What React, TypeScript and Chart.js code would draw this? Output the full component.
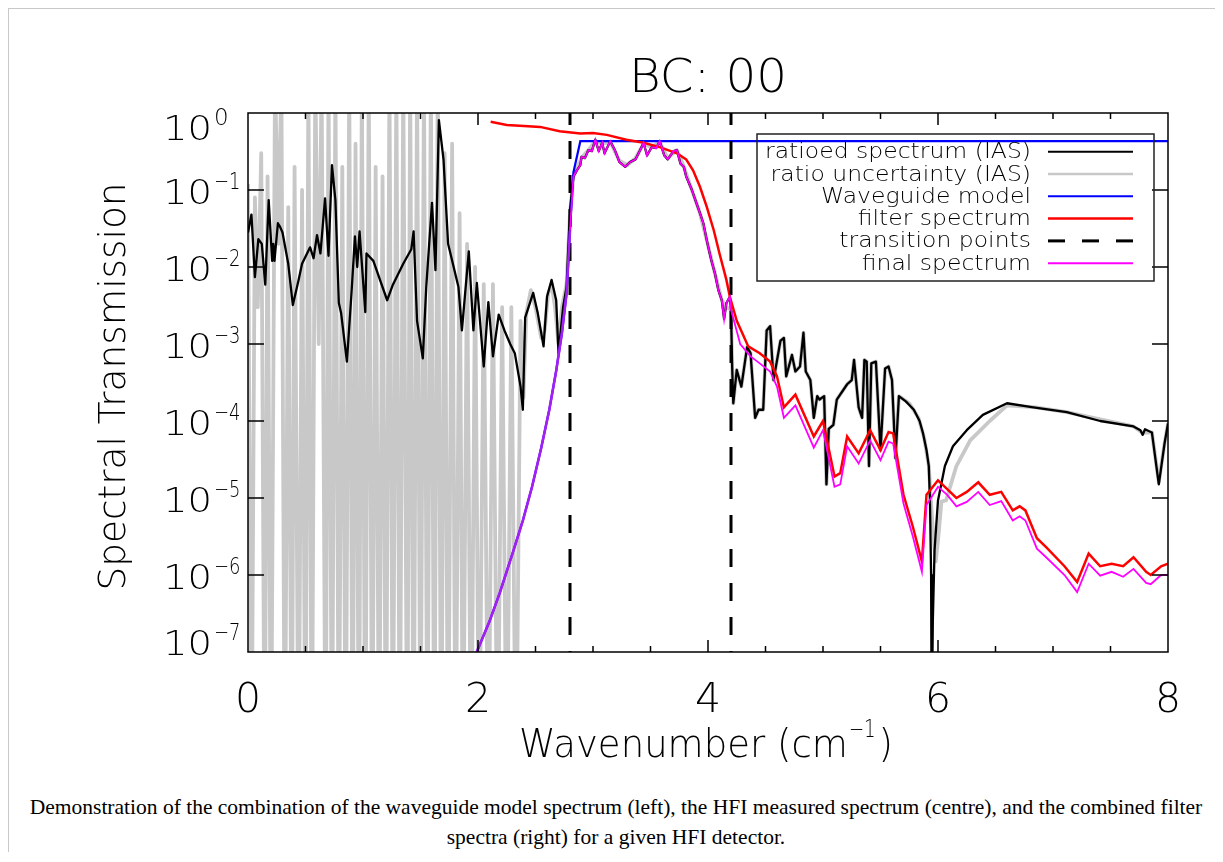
import { useEffect, useRef } from 'react';
import { Chart, registerables } from 'chart.js';

Chart.register(...registerables);

// ---- Spectra (wavenumber in cm^-1, transmission) ----

// ratioed spectrum (IAS)
const ratioWn = [
  0.00, 0.03, 0.06, 0.09, 0.12, 0.15, 0.18, 0.21, 0.22, 0.23, 0.26, 0.28, 0.30, 0.35, 0.39, 0.44, 0.47, 0.54, 0.57, 0.60,
  0.63, 0.67, 0.70, 0.73, 0.76, 0.79, 0.81, 0.86, 0.90, 0.93, 0.95, 0.97, 1.02, 1.03, 1.09, 1.21, 1.26, 1.35, 1.42, 1.44,
  1.47, 1.52, 1.55, 1.60, 1.63, 1.66, 1.70, 1.74, 1.83, 1.86, 1.92, 1.96, 1.99, 2.05, 2.09, 2.13, 2.18, 2.23, 2.28, 2.32,
  2.37, 2.39, 2.41, 2.48, 2.52, 2.57, 2.60, 2.64, 2.68, 2.70, 2.74, 2.77, 2.80, 2.83, 2.86, 2.89, 2.90, 2.93, 2.96, 2.99,
  3.02, 3.05, 3.08, 3.10, 3.15, 3.19, 3.23, 3.28, 3.32, 3.37, 3.41, 3.44, 3.47, 3.51, 3.55, 3.58, 3.62, 3.65, 3.70, 3.73,
  3.76, 3.79, 3.81, 3.86, 3.89, 3.93, 3.96, 3.99, 4.03, 4.06, 4.09, 4.12, 4.14, 4.16, 4.19, 4.20, 4.21, 4.22, 4.25, 4.29,
  4.34, 4.37, 4.41, 4.44, 4.48, 4.51, 4.54, 4.57, 4.63, 4.66, 4.68, 4.73, 4.76, 4.80, 4.83, 4.85, 4.89, 4.92, 4.95, 4.97,
  5.01, 5.03, 5.05, 5.09, 5.12, 5.21, 5.25, 5.27, 5.31, 5.34, 5.36, 5.38, 5.40, 5.42, 5.46, 5.50, 5.54, 5.57, 5.60, 5.63,
  5.66, 5.72, 5.79, 5.84, 5.87, 5.90, 5.92, 5.93, 5.94, 5.945, 5.955, 5.97, 6.00, 6.06, 6.13, 6.25, 6.39, 6.60, 6.83, 7.12,
  7.41, 7.70, 7.76, 7.78, 7.80, 7.86, 7.92, 7.97, 8.00,
];
const ratioVal = [
  2.8e-2, 4.8e-2, 7.4e-3, 2.3e-2, 2.0e-2, 5.9e-3, 7.4e-2, 1.2e-2, 2.0e-2, 1.2e-2, 3.7e-2, 3.3e-2, 2.8e-2, 1.1e-2, 3.2e-3, 6.8e-3, 1.1e-2, 1.8e-2, 1.3e-2, 2.6e-2,
  1.5e-2, 7.8e-2, 1.4e-2, 2.1e-1, 7.4e-2, 3.4e-3, 2.5e-3, 5.9e-4, 4.6e-3, 2.5e-2, 1.0e-2, 2.9e-2, 2.6e-3, 1.5e-2, 1.2e-2, 3.7e-3, 5.9e-3, 1.1e-2, 1.7e-2, 2.9e-2,
  2.0e-3, 6.5e-4, 5.5e-3, 6.8e-2, 9.1e-3, 8.1e-1, 2.5e-1, 2.0e-2, 5.5e-3, 1.5e-3, 1.6e-2, 1.5e-3, 6.2e-3, 5.1e-4, 3.5e-3, 6.9e-4, 2.4e-3, 1.5e-3, 1.0e-3, 7.6e-4,
  2.8e-4, 1.4e-4, 2.2e-3, 4.6e-3, 2.5e-3, 9.3e-4, 4.1e-3, 6.8e-3, 3.7e-3, 7.6e-4, 3.0e-3, 5.5e-3, 5.5e-2, 1.5e-1, 1.8e-1, 2.1e-1, 2.7e-1, 2.6e-1, 3.3e-1, 3.2e-1,
  4.5e-1, 3.2e-1, 4.1e-1, 3.0e-1, 4.3e-1, 3.3e-1, 2.3e-1, 2.0e-1, 2.3e-1, 2.5e-1, 3.3e-1, 4.1e-1, 2.8e-1, 3.6e-1, 3.5e-1, 4.3e-1, 2.8e-1, 2.5e-1, 3.2e-1, 3.3e-1,
  2.2e-1, 2.0e-1, 1.5e-1, 1.0e-1, 7.4e-2, 5.0e-2, 3.7e-2, 2.2e-2, 1.2e-2, 8.3e-3, 5.0e-3, 3.7e-3, 2.1e-3, 3.4e-3, 4.1e-3, 2.8e-3, 5.1e-4, 1.7e-4, 4.6e-4, 2.8e-4,
  9.1e-4, 7.6e-4, 1.1e-4, 1.4e-4, 1.4e-4, 1.5e-3, 1.7e-3, 3.4e-4, 1.1e-3, 1.2e-3, 3.8e-4, 7.2e-4, 4.4e-4, 5.1e-4, 1.4e-3, 4.4e-4, 3.4e-4, 1.1e-4, 2.1e-4, 1.9e-4,
  2.1e-4, 1.5e-5, 7.9e-5, 8.9e-5, 1.9e-4, 3.0e-4, 3.4e-4, 6.2e-4, 1.5e-4, 1.1e-4, 6.2e-4, 5.9e-4, 2.6e-5, 5.6e-4, 5.9e-4, 4.2e-5, 4.8e-4, 5.1e-4, 3.4e-4, 3.3e-5,
  2.1e-4, 1.8e-4, 1.4e-4, 1.0e-4, 6.9e-5, 4.2e-5, 2.6e-5, 9.3e-6, 1.0e-6, 1.0e-8, 2.5e-7, 2.1e-6, 9.3e-6, 2.6e-5, 4.7e-5, 7.6e-5, 1.2e-4, 1.7e-4, 1.5e-4, 1.3e-4,
  1.0e-4, 8.5e-5, 7.6e-5, 6.6e-5, 7.8e-5, 7.1e-5, 1.5e-5, 5.1e-5, 9.3e-5,
];

// ratio uncertainty (IAS)
const sigmaWn = [
  0.000, 0.030, 0.060, 0.085, 0.115, 0.145, 0.170, 0.200, 0.235, 0.265, 0.290, 0.320, 0.350, 0.380, 0.405, 0.440, 0.470, 0.500, 0.525, 0.555,
  0.585, 0.615, 0.640, 0.675, 0.700, 0.730, 0.760, 0.790, 0.820, 0.850, 0.880, 0.910, 0.935, 0.965, 0.990, 1.020, 1.050, 1.080, 1.110, 1.140,
  1.170, 1.200, 1.230, 1.260, 1.290, 1.320, 1.350, 1.385, 1.410, 1.440, 1.470, 1.500, 1.530, 1.560, 1.590, 1.620, 1.650, 1.680, 1.710, 1.740,
  1.775, 1.805, 1.840, 1.870, 1.905, 1.940, 1.975, 2.010, 2.050, 2.090, 2.130, 2.170, 2.210, 2.250, 2.290, 2.330, 2.370, 2.395,
  2.42, 2.46, 2.50, 2.55, 2.58, 2.61, 2.64, 2.67, 2.70, 2.73, 2.77, 2.80, 2.83, 2.90, 2.96, 3.02, 3.08, 3.15, 3.23, 3.30,
  3.37, 3.44, 3.51, 3.58, 3.65, 3.73, 3.79, 3.86, 3.93, 3.99, 4.06, 4.12, 4.16, 4.20,
  4.21, 4.22, 4.25, 4.29, 4.34, 4.37, 4.41, 4.44, 4.48, 4.51, 4.54, 4.57, 4.63, 4.66, 4.68, 4.73, 4.76, 4.80, 4.83, 4.85,
  4.89, 4.92, 4.95, 4.97, 5.01, 5.03, 5.05, 5.09, 5.12, 5.21, 5.25, 5.27, 5.31, 5.34, 5.36, 5.38, 5.40, 5.42, 5.46, 5.50,
  5.54, 5.57, 5.60, 5.63, 5.66, 5.75, 5.83, 5.88, 5.92, 5.95, 5.98, 6.00, 6.03, 6.07, 6.16, 6.28, 6.45, 6.60, 6.85, 7.12,
  7.41, 7.70, 7.78, 7.86, 7.92, 7.97, 8.00,
];
const sigmaVal = [
  1.2e-1, 1e-9, 8e-2, 3e-3, 3e-1, 1e-9, 1.5e-1, 1e-9, 3, 2e-2, 3, 1e-9, 6e-2, 1e-9, 2e-1, 1e-9, 1e-1, 1e-9, 3, 1e-9,
  3, 1e-3, 3, 1e-9, 3, 1e-9, 3, 1e-9, 2e-1, 1e-9, 3, 1e-9, 4e-1, 1e-9, 3, 1e-9, 3, 1e-9, 2e-1, 1e-9,
  1.5e-1, 1e-9, 3, 1e-9, 3, 1e-9, 3, 1e-9, 3, 1e-9, 3, 1e-9, 3, 1e-9, 3, 1e-9, 3, 1e-9, 3e-1, 1e-9,
  4e-1, 1e-9, 5e-2, 1e-9, 2e-2, 1e-9, 1e-2, 1e-9, 6e-3, 1e-9, 6e-3, 1e-9, 3e-3, 1e-9, 3e-3, 1e-9, 2e-3, 2e-4,
  2.5e-3, 5e-3, 3e-3, 1.2e-3, 1.5e-3, 4.5e-3, 6e-3, 3e-3, 1e-3, 3e-3, 6e-3, 5e-2, 1.5e-1, 2.6e-1, 3.3e-1, 4.3e-1, 4.0e-1, 4.2e-1, 2.4e-1, 2.1e-1,
  2.6e-1, 4.0e-1, 3.6e-1, 4.2e-1, 2.6e-1, 3.3e-1, 2.0e-1, 1.0e-1, 5.0e-2, 2.2e-2, 8.3e-3, 3.7e-3, 3.0e-3, 2.8e-3,
  5.1e-4, 1.7e-4, 4.6e-4, 2.8e-4, 9.1e-4, 7.6e-4, 1.1e-4, 1.4e-4, 1.4e-4, 1.5e-3, 1.7e-3, 3.4e-4, 1.1e-3, 1.2e-3, 3.8e-4, 7.2e-4, 4.4e-4, 5.1e-4, 1.4e-3, 4.4e-4,
  3.4e-4, 1.1e-4, 2.1e-4, 1.9e-4, 2.1e-4, 1.5e-5, 7.9e-5, 8.9e-5, 1.9e-4, 3.0e-4, 3.4e-4, 6.2e-4, 1.5e-4, 1.1e-4, 6.2e-4, 5.9e-4, 2.6e-5, 5.6e-4, 5.9e-4, 4.2e-5,
  4.8e-4, 5.1e-4, 3.4e-4, 3.3e-5, 2.1e-4, 1.7e-4, 1.1e-4, 6.0e-5, 2.6e-5, 5.0e-6, 1.5e-6, 2.8e-6, 9.0e-6, 9.3e-6, 2.6e-5, 5.6e-5, 1.0e-4, 1.6e-4, 1.5e-4, 1.3e-4,
  1.05e-4, 8.5e-5, 7.0e-5, 7.1e-5, 1.6e-5, 5.1e-5, 9.3e-5,
];

// Waveguide model
const guideWn = [1.90, 1.98, 2.10, 2.19, 2.30, 2.39, 2.47, 2.55, 2.62, 2.68, 2.73, 2.77, 2.80, 2.83, 2.89, 8.00];
const guideVal = [4e-8, 9.3e-8, 2.5e-7, 5.9e-7, 1.9e-6, 5.1e-6, 1.4e-5, 4.5e-5, 1.4e-4, 4.5e-4, 1.4e-3, 4.5e-3, 3.0e-2, 1.7e-1, 4.3e-1, 4.3e-1];

// filter spectrum
const filterWn = [
  2.11, 2.25, 2.40, 2.54, 2.71, 2.89, 3.00, 3.12, 3.29, 3.44, 3.58, 3.73, 3.81, 3.87, 3.93, 3.99, 4.05, 4.10, 4.16, 4.19,
  4.25, 4.35, 4.45, 4.54, 4.60, 4.66, 4.76, 4.92, 5.00, 5.10, 5.15, 5.21, 5.31, 5.41, 5.50, 5.57, 5.61, 5.70, 5.78, 5.86,
  5.90, 6.00, 6.08, 6.16, 6.25, 6.35, 6.45, 6.55, 6.65, 6.71, 6.76, 6.86, 6.94, 7.10, 7.21, 7.31, 7.41, 7.51, 7.61, 7.70,
  7.81, 7.85, 7.94, 8.00,
];
const filterVal = [
  7.7e-1, 7.0e-1, 6.8e-1, 6.6e-1, 5.8e-1, 5.4e-1, 5.5e-1, 5.2e-1, 4.5e-1, 4.1e-1, 3.6e-1, 3.0e-1, 2.5e-1, 1.8e-1, 1.1e-1, 6.0e-2, 3.0e-2, 1.5e-2, 6.8e-3, 4.1e-3,
  2.0e-3, 9.3e-4, 7.6e-4, 5.9e-4, 3.8e-4, 1.5e-4, 2.2e-4, 6.3e-5, 1.0e-4, 1.9e-5, 2.1e-5, 6.3e-5, 3.8e-5, 7.6e-5, 4.2e-5, 7.2e-5, 6.9e-5, 1.1e-5, 4.3e-6, 1.5e-6,
  1.1e-5, 1.7e-5, 1.3e-5, 1.0e-5, 1.2e-5, 1.6e-5, 1.1e-5, 1.2e-5, 6.9e-6, 7.8e-6, 6.9e-6, 3.0e-6, 2.3e-6, 1.3e-6, 8.1e-7, 1.9e-6, 1.3e-6, 1.4e-6, 1.3e-6, 1.7e-6,
  1.1e-6, 1.0e-6, 1.3e-6, 1.4e-6,
];

// final spectrum
const finalWn = [
  1.90, 1.98, 2.10, 2.19, 2.30, 2.39, 2.47, 2.55, 2.62, 2.68, 2.73, 2.77, 2.80,
  2.83, 2.86, 2.89, 2.90, 2.93, 2.96, 2.99, 3.02, 3.05, 3.08, 3.10, 3.15, 3.19, 3.23, 3.28, 3.32, 3.37, 3.41, 3.44, 3.47,
  3.51, 3.55, 3.58, 3.62, 3.65, 3.70, 3.73, 3.76, 3.79, 3.81, 3.86, 3.89, 3.93, 3.96, 3.99, 4.03, 4.06, 4.09, 4.12, 4.14,
  4.16, 4.19, 4.20,
  4.28, 4.37, 4.45, 4.54, 4.60, 4.66, 4.76, 4.92, 5.00, 5.10, 5.15, 5.21, 5.31, 5.41, 5.50, 5.57, 5.61, 5.70, 5.78, 5.86,
  5.90, 6.00, 6.08, 6.16, 6.25, 6.35, 6.45, 6.55, 6.65, 6.71, 6.76, 6.86, 6.94, 7.10, 7.21, 7.31, 7.41, 7.51, 7.61, 7.70,
  7.81, 7.85, 7.94, 8.00,
];
const finalVal = [
  4e-8, 9.3e-8, 2.5e-7, 5.9e-7, 1.9e-6, 5.1e-6, 1.4e-5, 4.5e-5, 1.4e-4, 4.5e-4, 1.4e-3, 4.5e-3, 3.0e-2,
  1.5e-1, 1.8e-1, 2.1e-1, 2.7e-1, 2.6e-1, 3.3e-1, 3.2e-1, 4.5e-1, 3.2e-1, 4.1e-1, 3.0e-1, 4.3e-1, 3.3e-1, 2.3e-1, 2.0e-1, 2.3e-1, 2.5e-1, 3.3e-1, 4.1e-1, 2.8e-1,
  3.6e-1, 3.5e-1, 4.3e-1, 2.8e-1, 2.5e-1, 3.2e-1, 3.3e-1, 2.2e-1, 2.0e-1, 1.5e-1, 1.0e-1, 7.4e-2, 5.0e-2, 3.7e-2, 2.2e-2, 1.2e-2, 8.3e-3, 5.0e-3, 3.7e-3, 2.1e-3,
  3.4e-3, 4.1e-3, 2.8e-3,
  1.0e-3, 6.9e-4, 5.6e-4, 4.4e-4, 2.8e-4, 1.1e-4, 1.6e-4, 4.5e-5, 7.6e-5, 1.4e-5, 1.5e-5, 4.7e-5, 2.8e-5, 5.6e-5, 3.1e-5, 5.4e-5, 5.1e-5, 8.5e-6, 3.2e-6, 1.1e-6,
  8.1e-6, 1.4e-5, 1.1e-5, 7.8e-6, 8.9e-6, 1.2e-5, 8.1e-6, 9.1e-6, 5.1e-6, 5.8e-6, 5.1e-6, 2.2e-6, 1.7e-6, 1.0e-6, 6.0e-7, 1.4e-6, 9.8e-7, 1.1e-6, 9.5e-7, 1.2e-6,
  7.9e-7, 7.6e-7, 1.0e-6, 1.0e-6,
];

// transition points between waveguide, measured and filter regimes
const transitionWn = [2.8, 4.2];

// axes
const xMin = 0;
const xMax = 8;
const yMin = 1e-7;
const yMax = 1;
const xMajorTicks = [0, 2, 4, 6, 8];
const xTickLabels = ['0', '2', '4', '6', '8'];
const yDecades = [0, -1, -2, -3, -4, -5, -6, -7];

const titleText = 'BC: 00';
const xTitleMain = 'Wavenumber (cm';
const xTitleSup = '\u22121';
const xTitleEnd = ')';
const yTitleText = 'Spectral Transmission';

const legendLabels = [
  'ratioed spectrum (IAS)',
  'ratio uncertainty (IAS)',
  'Waveguide model',
  'filter spectrum',
  'transition points',
  'final spectrum',
];
const legendColors = ['#000000', '#c8c8c8', '#0000ff', '#ff0000', '#000000', '#ff00ff'];
const legendWidths = [2, 2.5, 2, 2.5, 3, 2];

const captionLine1 =
  'Demonstration of the combination of the waveguide model spectrum (left), the HFI measured spectrum (centre), and the combined filter';
const captionLine2 = 'spectra (right) for a given HFI detector.';

const FACE = '"DejaVu Sans", "Liberation Sans", sans-serif';
const font = (size: number) => `200 ${size}px ${FACE}`;

const pairs = (xs: number[], ys: number[]) => xs.map((x, i) => ({ x, y: ys[i] }));

const textWidth = (ctx: CanvasRenderingContext2D, text: string, f: string) => {
  ctx.save();
  ctx.font = f;
  const w = ctx.measureText(text).width;
  ctx.restore();
  return w;
};

const drawText = (
  ctx: CanvasRenderingContext2D,
  text: string,
  x: number,
  y: number,
  f: string,
  sx: number,
  align: CanvasTextAlign,
  rot = 0,
) => {
  ctx.save();
  ctx.font = f;
  ctx.textAlign = align;
  ctx.textBaseline = 'alphabetic';
  ctx.fillStyle = '#000';
  ctx.translate(x, y);
  if (rot) ctx.rotate(rot);
  ctx.scale(sx, 1);
  ctx.fillText(text, 0, 0);
  ctx.restore();
};

// IDL-style frame: inward ticks on all four sides, labels, titles and the boxed legend
const idlDecor = {
  id: 'idlDecor',
  afterDatasetsDraw(chart: any) {
    const { ctx, chartArea: a, scales } = chart;
    const xs = scales.x;
    const ys = scales.y;
    ctx.save();
    ctx.strokeStyle = '#000';
    ctx.lineWidth = 1.5;
    ctx.setLineDash([]);
    ctx.beginPath();
    ctx.rect(a.left, a.top, a.right - a.left, a.bottom - a.top);
    for (let i = 0; i <= 16; i++) {
      const v = xMin + i * 0.5;
      const px = xs.getPixelForValue(v);
      const len = xMajorTicks.includes(v) ? 12 : 6;
      ctx.moveTo(px, a.bottom);
      ctx.lineTo(px, a.bottom - len);
      ctx.moveTo(px, a.top);
      ctx.lineTo(px, a.top + len);
    }
    for (const e of yDecades) {
      const py = ys.getPixelForValue(Math.pow(10, e));
      ctx.moveTo(a.left, py);
      ctx.lineTo(a.left + 16, py);
      ctx.moveTo(a.right, py);
      ctx.lineTo(a.right - 16, py);
    }
    ctx.stroke();

    // x tick labels
    xMajorTicks.forEach((v, i) => {
      drawText(ctx, xTickLabels[i], xs.getPixelForValue(v), a.bottom + 60, font(41), 1, 'center');
    });

    // y tick labels: 10 with exponent
    const baseF = font(34);
    const expF = font(23);
    const baseSx = 49 / textWidth(ctx, '10', baseF);
    for (const e of yDecades) {
      const py = ys.getPixelForValue(Math.pow(10, e));
      const base = Math.min(Math.max(py + 14, a.top + 27), a.bottom + 3);
      drawText(ctx, '10', a.left - 36, base, baseF, baseSx, 'right');
      const exp = e === 0 ? '0' : '\u2212' + String(-e);
      drawText(ctx, exp, a.left - 34, base - 15, expF, e === 0 ? 1 : 0.78, 'left');
    }

    // title
    const tF = font(46);
    const cx = (a.left + a.right) / 2;
    drawText(ctx, titleText, cx, a.top - 21, tF, 158 / textWidth(ctx, titleText, tF), 'center');

    // y title
    const yF = font(38);
    drawText(ctx, yTitleText, a.left - 123, (a.top + a.bottom) / 2 + 4, yF, 408 / textWidth(ctx, yTitleText, yF), 'center', -Math.PI / 2);

    // x title with superscript
    const mF = font(39);
    const sF = font(24);
    const w1 = textWidth(ctx, xTitleMain, mF);
    const w2 = textWidth(ctx, xTitleSup, sF) * 0.8;
    const w3 = textWidth(ctx, xTitleEnd, mF);
    const sx = 374 / (w1 + w2 + w3 + 4);
    const x0 = cx - 2 - 187;
    const by = a.bottom + 105;
    drawText(ctx, xTitleMain, x0, by, mF, sx, 'left');
    drawText(ctx, xTitleSup, x0 + (w1 + 1) * sx, by - 20, sF, sx * 0.8, 'left');
    drawText(ctx, xTitleEnd, x0 + (w1 + w2 + 4) * sx, by, mF, sx, 'left');

    // legend
    const lx0 = a.left + 509;
    const lx1 = a.left + 906;
    const ly0 = a.top + 21;
    const ly1 = a.top + 168;
    ctx.strokeStyle = '#222';
    ctx.lineWidth = 1.5;
    ctx.strokeRect(lx0, ly0, lx1 - lx0, ly1 - ly0);
    const lF = font(21);
    const lsx = 266 / textWidth(ctx, legendLabels[0], lF);
    legendLabels.forEach((label, i) => {
      const ry = a.top + 38.7 + 22.3 * i;
      drawText(ctx, label, a.left + 783, ry + 6.5, lF, lsx, 'right');
      ctx.save();
      ctx.strokeStyle = legendColors[i];
      ctx.lineWidth = legendWidths[i];
      ctx.setLineDash(i === 4 ? [17, 17] : []);
      ctx.beginPath();
      ctx.moveTo(a.left + 800, ry);
      ctx.lineTo(a.left + 885, ry);
      ctx.stroke();
      ctx.restore();
    });
    ctx.restore();
  },
};

export default function App() {
  const canvasRef = useRef<HTMLCanvasElement | null>(null);

  useEffect(() => {
    const canvas = canvasRef.current;
    if (!canvas) return;
    const base = { pointRadius: 0, tension: 0, fill: false, clip: 0 };
    const chart = new Chart(canvas, {
      type: 'line',
      data: {
        datasets: [
          {
            ...base,
            label: 'final spectrum',
            data: pairs(finalWn, finalVal),
            borderColor: '#ff00ff',
            borderWidth: 1.8,
            order: 1,
            segment: {
              borderColor: (c: any) => (c.p1.parsed.x <= 2.8001 ? '#a31ff2' : undefined),
              borderWidth: (c: any) => (c.p1.parsed.x <= 2.8001 ? 2.6 : undefined),
            },
          },
          ...transitionWn.map((t) => ({
            ...base,
            label: 'transition points',
            data: [
              { x: t, y: yMax },
              { x: t, y: yMin },
            ],
            borderColor: '#000000',
            borderWidth: 3,
            borderDash: [18, 16],
            borderDashOffset: 6,
            order: 2,
          })),
          {
            ...base,
            label: 'filter spectrum',
            data: pairs(filterWn, filterVal),
            borderColor: '#ff0000',
            borderWidth: 2.5,
            order: 3,
          },
          {
            ...base,
            label: 'Waveguide model',
            data: pairs(guideWn, guideVal),
            borderColor: '#0000ff',
            borderWidth: 2.2,
            order: 4,
          },
          {
            ...base,
            label: 'ratioed spectrum (IAS)',
            data: pairs(ratioWn, ratioVal),
            borderColor: '#000000',
            borderWidth: 2.3,
            borderJoinStyle: 'round',
            order: 5,
          },
          {
            ...base,
            label: 'ratio uncertainty (IAS)',
            data: pairs(sigmaWn, sigmaVal),
            borderColor: '#c8c8c8',
            borderWidth: 3.8,
            borderJoinStyle: 'round',
            order: 6,
          },
        ] as any,
      },
      options: {
        responsive: false,
        animation: false,
        events: [],
        devicePixelRatio: 1,
        layout: { padding: { left: 0, top: 104, right: 55, bottom: 0 } },
        plugins: {
          legend: { display: false },
          tooltip: { enabled: false },
          title: { display: false },
        },
        scales: {
          x: {
            type: 'linear',
            min: xMin,
            max: xMax,
            grid: { display: false },
            border: { display: false },
            ticks: { display: false },
            afterFit: (s: any) => {
              s.height = 127;
            },
          },
          y: {
            type: 'logarithmic',
            min: yMin,
            max: yMax,
            grid: { display: false },
            border: { display: false },
            ticks: { display: false },
            afterFit: (s: any) => {
              s.width = 239;
            },
          },
        },
      },
      plugins: [idlDecor],
    });
    return () => chart.destroy();
  }, []);

  return (
    <div style={{ borderTop: '1px solid #c8c8c8', borderLeft: '1px solid #c8c8c8', width: 1214, background: '#fff' }}>
      <canvas ref={canvasRef} width={1214} height={770} style={{ display: 'block' }} />
      <div
        style={{
          marginTop: 13,
          textAlign: 'center',
          fontFamily: '"Liberation Serif", "Times New Roman", serif',
          fontSize: 21.5,
          lineHeight: '30px',
          whiteSpace: 'nowrap',
          color: '#000',
        }}
      >
        {captionLine1}
        <br />
        {captionLine2}
      </div>
    </div>
  );
}
